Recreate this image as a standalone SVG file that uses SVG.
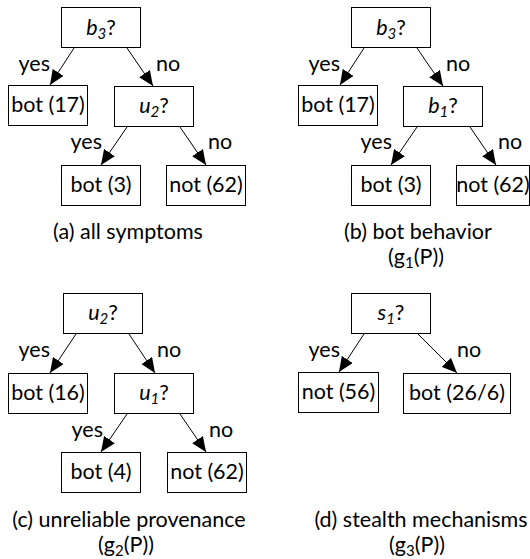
<svg xmlns="http://www.w3.org/2000/svg" width="530" height="559" viewBox="0 0 530 559">
<style>
text{font-family:Lato,"Open Sans","Liberation Sans",sans-serif;font-size:21.5px;fill:#000}
.n rect{fill:#fff;stroke:#000;stroke-width:1}
.n text,.cap{text-anchor:middle}
.i{font-style:italic}
.s{font-size:15px}
.e line{stroke:#000;stroke-width:1;marker-end:url(#ah)}
.y{text-anchor:end}
</style>
<defs>
<marker id="ah" markerWidth="15" markerHeight="13" refX="15" refY="6.5" orient="auto" markerUnits="userSpaceOnUse"><path d="M0,0 L15,6.5 L0,13 z" fill="#000"/></marker>
</defs>
<g id="connectors" class="e">
<line x1="74" y1="48" x2="50" y2="85"/>
<line x1="127" y1="48" x2="153" y2="86"/>
<line x1="127" y1="127" x2="101" y2="165"/>
<line x1="180" y1="127" x2="206" y2="165"/>
<line x1="364" y1="48" x2="340" y2="85"/>
<line x1="417" y1="48" x2="443" y2="86"/>
<line x1="417" y1="127" x2="391" y2="165"/>
<line x1="470" y1="127" x2="496" y2="165"/>
<line x1="76" y1="334" x2="50" y2="373"/>
<line x1="129" y1="334" x2="155" y2="373"/>
<line x1="127" y1="414" x2="101" y2="452"/>
<line x1="180" y1="414" x2="206" y2="452"/>
<line x1="364" y1="334" x2="339" y2="372"/>
<line x1="418" y1="334" x2="457" y2="373"/>
</g>
<g id="edge-labels">
<text class="y" x="50" y="71">yes</text><text x="156" y="71">no</text>
<text class="y" x="102" y="149">yes</text><text x="208" y="149">no</text>
<text class="y" x="340" y="71">yes</text><text x="446" y="71">no</text>
<text class="y" x="392" y="149">yes</text><text x="498" y="149">no</text>
<text class="y" x="50" y="357">yes</text><text x="157" y="357">no</text>
<text class="y" x="103" y="437">yes</text><text x="209" y="437">no</text>
<text class="y" x="340" y="357">yes</text><text x="457" y="357">no</text>
</g>
<g id="a_root" class="n"><rect x="61.5" y="7.5" width="79" height="40"/><text x="101" y="34.5"><tspan class="i">b</tspan><tspan class="i s" dy="4">3</tspan><tspan dy="-4">?</tspan></text></g>
<g id="a_bot17" class="n"><rect x="8.5" y="85.5" width="79" height="40"/><text x="48" y="112">bot (17)</text></g>
<g id="a_u2" class="n"><rect x="114.5" y="86.5" width="79" height="40"/><text x="154" y="113"><tspan class="i">u</tspan><tspan class="i s" dy="4">2</tspan><tspan dy="-4">?</tspan></text></g>
<g id="a_bot3" class="n"><rect x="61.5" y="165.5" width="79" height="40"/><text x="101" y="192">bot (3)</text></g>
<g id="a_not62" class="n"><rect x="166.5" y="165.5" width="79" height="40"/><text x="206" y="192">not (62)</text></g>
<g id="b_root" class="n"><rect x="351.5" y="7.5" width="79" height="40"/><text x="391" y="34.5"><tspan class="i">b</tspan><tspan class="i s" dy="4">3</tspan><tspan dy="-4">?</tspan></text></g>
<g id="b_bot17" class="n"><rect x="298.5" y="85.5" width="79" height="40"/><text x="338" y="112">bot (17)</text></g>
<g id="b_b1" class="n"><rect x="403.5" y="86.5" width="79" height="40"/><text x="443" y="113"><tspan class="i">b</tspan><tspan class="i s" dy="4">1</tspan><tspan dy="-4">?</tspan></text></g>
<g id="b_bot3" class="n"><rect x="351.5" y="165.5" width="79" height="40"/><text x="391" y="192">bot (3)</text></g>
<g id="b_not62" class="n"><rect x="456.5" y="165.5" width="73" height="40"/><text x="493" y="192">not (62)</text></g>
<g id="c_root" class="n"><rect x="63.5" y="293.5" width="79" height="40"/><text x="103" y="320"><tspan class="i">u</tspan><tspan class="i s" dy="4">2</tspan><tspan dy="-4">?</tspan></text></g>
<g id="c_bot16" class="n"><rect x="8.5" y="373.5" width="79" height="40"/><text x="48" y="400">bot (16)</text></g>
<g id="c_u1" class="n"><rect x="114.5" y="373.5" width="79" height="40"/><text x="154" y="400"><tspan class="i">u</tspan><tspan class="i s" dy="4">1</tspan><tspan dy="-4">?</tspan></text></g>
<g id="c_bot4" class="n"><rect x="61.5" y="452.5" width="79" height="40"/><text x="101" y="479">bot (4)</text></g>
<g id="c_not62" class="n"><rect x="167.5" y="452.5" width="79" height="40"/><text x="207" y="479">not (62)</text></g>
<g id="d_root" class="n"><rect x="351.5" y="293.5" width="79" height="40"/><text x="391" y="320"><tspan class="i">s</tspan><tspan class="i s" dy="4">1</tspan><tspan dy="-4">?</tspan></text></g>
<g id="d_not56" class="n"><rect x="298.5" y="372.5" width="80" height="40"/><text x="338.5" y="399">not (56)</text></g>
<g id="d_bot266" class="n"><rect x="403.5" y="373.5" width="107" height="40"/><text x="457" y="400">bot (26/6)</text></g>
<g id="captions">
<text class="cap" x="128" y="239">(a) all symptoms</text>
<text class="cap" x="418" y="239">(b) bot behavior</text>
<text class="cap" x="416" y="264">(g<tspan class="s" dy="4">1</tspan><tspan dy="-4">(P))</tspan></text>
<text class="cap" x="129" y="527">(c) unreliable provenance</text>
<text class="cap" x="126" y="552">(g<tspan class="s" dy="4">2</tspan><tspan dy="-4">(P))</tspan></text>
<text class="cap" x="421" y="527">(d) stealth mechanisms</text>
<text class="cap" x="417" y="552">(g<tspan class="s" dy="4">3</tspan><tspan dy="-4">(P))</tspan></text>
</g>
</svg>
